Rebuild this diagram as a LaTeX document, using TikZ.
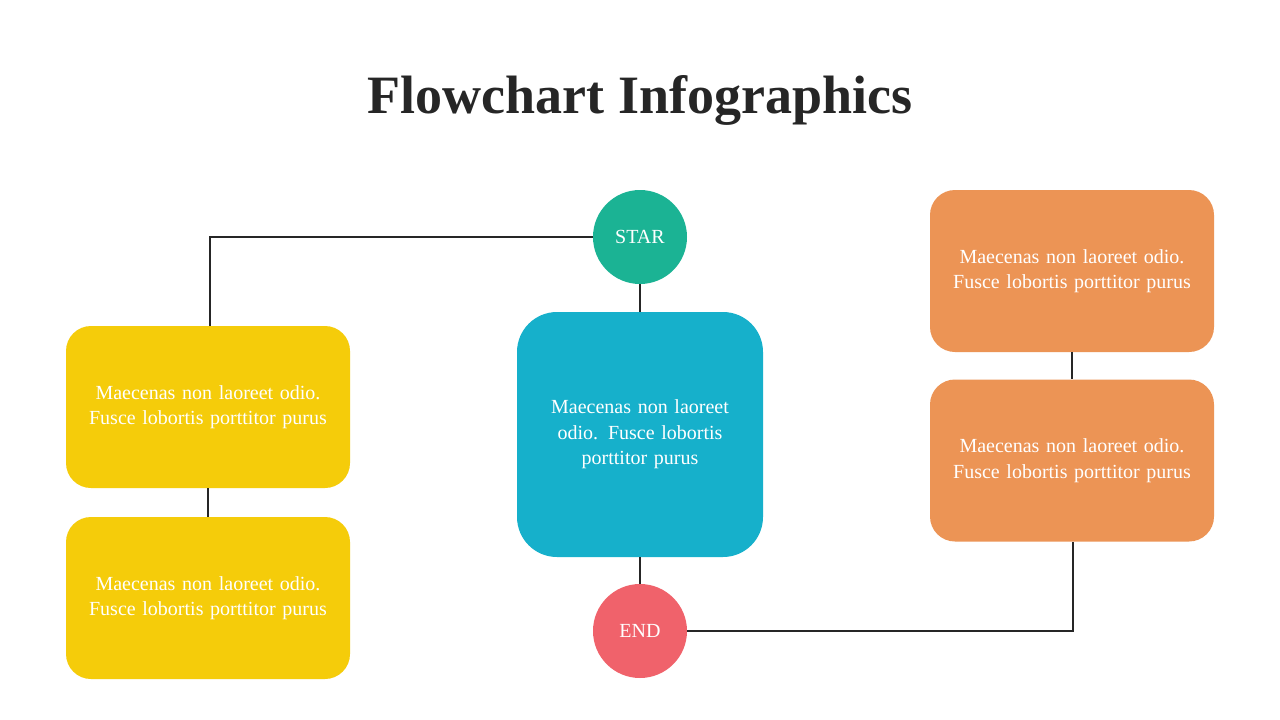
\documentclass[tikz,border=0pt]{standalone}
\usepackage{fontspec}
\setmainfont{Liberation Serif}
\definecolor{teal1}{HTML}{1BB394}
\definecolor{blue1}{HTML}{16B0CB}
\definecolor{red1}{HTML}{F0626B}
\definecolor{yel1}{HTML}{F5CC0A}
\definecolor{org1}{HTML}{EC9455}
\definecolor{ink}{HTML}{262626}
\begin{document}
\begin{tikzpicture}[x=1pt,y=-1pt,
  box/.style={rounded corners=25pt,minimum width=284pt,minimum height=162pt,text=white,align=center,text width=240pt,font=\fontsize{20}{25.5}\selectfont,inner sep=0pt},
  circ/.style={circle,minimum size=94pt,text=white,font=\fontsize{20}{24}\selectfont,inner sep=0pt},
  conn/.style={draw=ink,line width=1.3pt}]
\useasboundingbox (0,0) rectangle (1280,720);
\fill[white] (0,0) rectangle (1280,720);
\node[font=\bfseries\fontsize{54}{60}\selectfont,text=ink] (title) at (640,100) {Flowchart Infographics};
\node[circ,fill=teal1] (star) at (640,237) {STAR};
\node[circ,fill=red1] (end) at (640,631) {END};
\node[box,fill=blue1,minimum width=246pt,minimum height=245pt,text width=190pt,rounded corners=40pt] (blue) at (640,434.5) {Maecenas non laoreet odio. Fusce lobortis porttitor purus};
\node[box,fill=yel1] (y1) at (208,407) {Maecenas non laoreet odio. Fusce lobortis porttitor purus};
\node[box,fill=yel1] (y2) at (208,598) {Maecenas non laoreet odio. Fusce lobortis porttitor purus};
\node[box,fill=org1] (o1) at (1072,271) {Maecenas non laoreet odio. Fusce lobortis porttitor purus};
\node[box,fill=org1] (o2) at (1072,460.5) {Maecenas non laoreet odio. Fusce lobortis porttitor purus};
\coordinate (c1) at (210,237);
\coordinate (c2) at (1073,631);
\draw[conn] (star.west) -- (c1) -- (c1 |- y1.north);
\draw[conn] (y1.south) -- (y2.north);
\draw[conn] (star.south) -- (blue.north);
\draw[conn] (blue.south) -- (end.north);
\draw[conn] (end.east) -- (c2) -- (c2 |- o2.south);
\draw[conn] (o1.south) -- (o2.north);
\end{tikzpicture}
\end{document}
